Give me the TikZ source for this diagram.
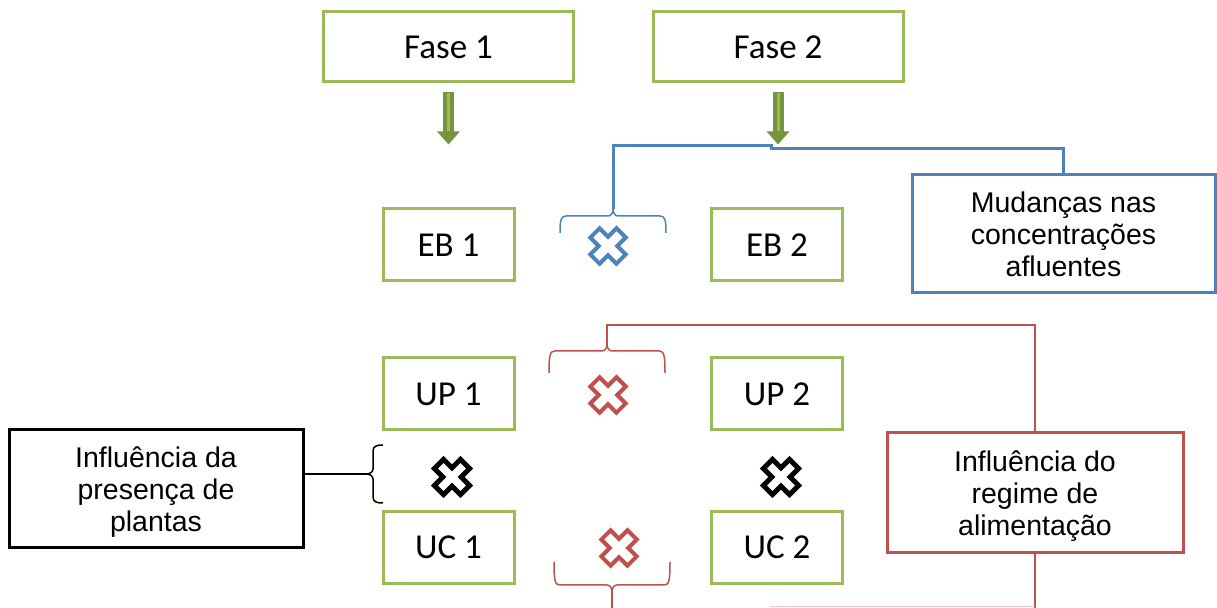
\documentclass[tikz,border=0pt]{standalone}
\usepackage{fontspec}
\setmainfont{Liberation Sans}
\newfontfamily\calibri{Carlito}
\usetikzlibrary{arrows.meta}
\definecolor{verde}{HTML}{9BBB59}
\definecolor{verdeesc}{HTML}{77933C}
\definecolor{azul}{HTML}{4F81BD}
\definecolor{verm}{HTML}{C0504D}
\begin{document}
\begin{tikzpicture}[x=0.5pt, y=-0.5pt,
    fase/.style={draw=verde, line width=1.5pt, minimum width=125pt, minimum height=35pt,
      font=\calibri\fontsize{17.5}{21}\selectfont},
    etapa/.style={draw=verde, line width=1.5pt, minimum width=65.5pt, minimum height=36pt,
      font=\calibri\fontsize{17.5}{21}\selectfont},
    nota/.style={draw, line width=1.5pt, minimum width=148pt, minimum height=59pt, align=center,
      text depth=0pt, font=\fontsize{14.25}{16}\selectfont},
    seta/.style={verdeesc, line width=5.5pt, -{Triangle[width=11pt,length=6.5pt]}},
    ligazul/.style={azul, line width=1.5pt},
    ligverm/.style={verm, line width=1pt},
    pics/cruz/.style={code={
      \draw[rotate=45, line width=2pt, #1, fill=white] (6.5,18.5) -- (6.5,6.5) -- (18.5,6.5) -- (18.5,-6.5)
        -- (6.5,-6.5) -- (6.5,-18.5) -- (-6.5,-18.5) -- (-6.5,-6.5) -- (-18.5,-6.5) -- (-18.5,6.5)
        -- (-6.5,6.5) -- (-6.5,18.5) -- cycle;}},
    pics/chave/.style n args={2}{code={
      \draw[line width=0.75pt, pic actions] (-#1,#2) .. controls (-#1,4) and (-#1+1,0) .. (-#1+6,0) -- (-5,0)
        .. controls (-2,0) and (0,-3) .. (0,-7) .. controls (0,-3) and (2,0) .. (5,0) -- (#1-6,0)
        .. controls (#1-1,0) and (#1,4) .. (#1,#2);
      \coordinate (-ponta) at (0,-7);}}]
  \useasboundingbox (0,0) rectangle (1217,608);

  % fases
  \node[fase] (f1) at (448.5,47) {Fase 1};
  \node[fase] (f2) at (778,47) {Fase 2};
  \draw[seta] ([yshift=-4.5pt]f1.south) -- ++(0,52);
  \draw[seta] ([yshift=-4.5pt]f2.south) -- ++(0,52);
  \draw[verde, line width=1.5pt] ([yshift=-5pt]f1.south) -- ++(0,38);
  \draw[verde, line width=1.5pt] ([yshift=-5pt]f2.south) -- ++(0,38);

  % unidades
  \node[etapa] (eb1) at (448.5,245) {EB 1};
  \node[etapa] (eb2) at (777,245) {EB 2};
  \node[etapa] (up1) at (448.5,394) {UP 1};
  \node[etapa] (up2) at (777,394) {UP 2};
  \node[etapa] (uc1) at (448.5,547.5) {UC 1};
  \node[etapa] (uc2) at (777,547.5) {UC 2};

  % notas
  \node[nota, draw=azul, minimum width=151.5pt] (mud) at (1063.5,234) {Mudanças nas\\concentrações\\afluentes};
  \node[nota, draw=black, minimum width=147pt] (pla) at (156,489) {Influência da\\presença de\\plantas};
  \node[nota, draw=verm, minimum height=60pt] (reg) at (1035,493) {Influência do\\regime de\\alimentação};

  % cruzes
  \pic at (608,246) {cruz=azul};
  \pic at (608,395) {cruz=verm};
  \pic at (619,548) {cruz=verm};
  \pic at (452,477) {cruz={black, line width=2.5pt}};
  \pic at (781,477) {cruz={black, line width=2.5pt}};

  % chaves
  \pic[azul] (cb) at (613,216) {chave={53}{17}};
  \pic[verm] (cv1) at (607,351) {chave={58}{22}};
  \pic[verm, rotate=180] (cv2) at (612,585) {chave={58}{23}};
  \pic[black, rotate=90] (cp) at (373,474) {chave={29}{10}};

  % ligacoes
  \coordinate (base) at (770,606.5);
  \draw[ligazul] (cb-ponta) |- (771,146) -- (771,149) -| (mud.north);
  \draw[ligverm] (cv1-ponta) -- ++(0,-19) -| (reg.north);
  \draw[ligverm] (cv2-ponta) -- ++(0,20);
  \draw[ligverm] (reg.south) -- ++(0,56);
  \draw[verm!30, line width=0.75pt] (reg.south |- base) -- (base);
  \draw[line width=0.6pt] (cp-ponta) -- (cp-ponta -| pla.east);
\end{tikzpicture}
\end{document}
